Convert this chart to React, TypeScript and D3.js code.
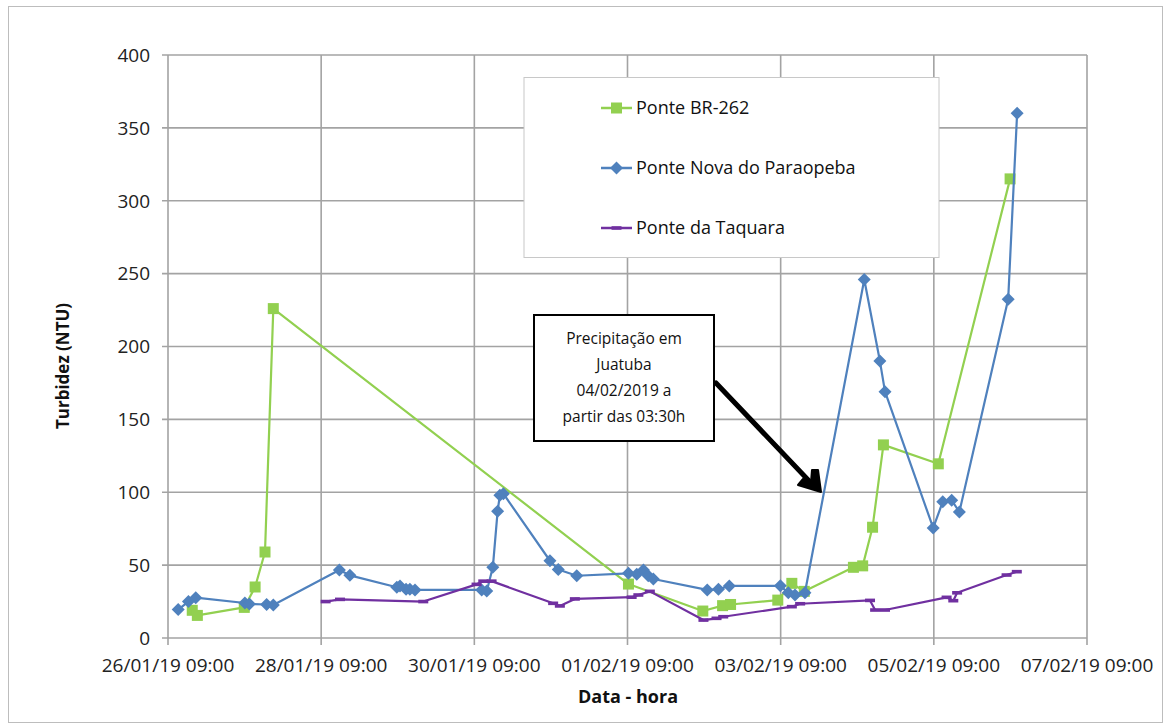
import React from 'react';
import * as d3 from 'd3';

// x tick labels, as printed on the chart
const xTickLabels = [
  '26/01/19 09:00', '28/01/19 09:00', '30/01/19 09:00', '01/02/19 09:00',
  '03/02/19 09:00', '05/02/19 09:00', '07/02/19 09:00',
];
const yTicks = [0, 50, 100, 150, 200, 250, 300, 350, 400];

// Ponte BR-262
const br262 = [
  ['2019-01-26 16:36', 19], ['2019-01-26 18:12', 15.5], ['2019-01-27 08:54', 21],
  ['2019-01-27 12:18', 35], ['2019-01-27 15:24', 59], ['2019-01-27 18:00', 226],
  ['2019-02-01 09:18', 37], ['2019-02-02 08:36', 18.5], ['2019-02-02 14:48', 22.2],
  ['2019-02-02 17:18', 23], ['2019-02-03 08:06', 26], ['2019-02-03 12:30', 37.5],
  ['2019-02-03 16:24', 32], ['2019-02-04 07:48', 48.5], ['2019-02-04 10:42', 49.5],
  ['2019-02-04 13:48', 76], ['2019-02-04 17:12', 132.5], ['2019-02-05 10:24', 119.5],
  ['2019-02-06 08:54', 315],
];

// Ponte Nova do Paraopeba
const novaParaopeba = [
  ['2019-01-26 12:12', 19.5], ['2019-01-26 15:24', 25], ['2019-01-26 17:42', 27.7],
  ['2019-01-27 09:06', 24], ['2019-01-27 10:30', 23.3], ['2019-01-27 15:54', 23],
  ['2019-01-27 18:00', 22.6], ['2019-01-28 14:42', 46.6], ['2019-01-28 18:00', 43],
  ['2019-01-29 08:42', 34.8], ['2019-01-29 09:42', 35.7], ['2019-01-29 11:36', 33.5],
  ['2019-01-29 12:48', 33.4], ['2019-01-29 14:24', 33], ['2019-01-30 11:18', 33],
  ['2019-01-30 12:54', 32.2], ['2019-01-30 14:48', 48.5], ['2019-01-30 16:18', 87],
  ['2019-01-30 17:00', 98], ['2019-01-30 18:06', 99], ['2019-01-31 08:42', 53],
  ['2019-01-31 11:18', 47], ['2019-01-31 17:06', 42.7], ['2019-02-01 09:18', 44.4],
  ['2019-02-01 11:54', 43.7], ['2019-02-01 14:00', 46.6], ['2019-02-01 15:30', 42.7],
  ['2019-02-01 17:06', 40.5], ['2019-02-02 10:00', 33], ['2019-02-02 13:30', 33.4],
  ['2019-02-02 16:54', 35.7], ['2019-02-03 08:54', 35.8], ['2019-02-03 11:24', 31],
  ['2019-02-03 13:30', 29.5], ['2019-02-03 16:36', 31], ['2019-02-04 11:12', 246],
  ['2019-02-04 16:06', 190], ['2019-02-04 17:42', 169], ['2019-02-05 08:48', 75.5],
  ['2019-02-05 11:48', 93.5], ['2019-02-05 14:36', 94.5], ['2019-02-05 17:00', 86.5],
  ['2019-02-06 08:18', 232.5], ['2019-02-06 11:06', 360],
];

// Ponte da Taquara
const taquara = [
  ['2019-01-28 10:24', 25], ['2019-01-28 14:54', 26.5], ['2019-01-29 17:00', 25],
  ['2019-01-30 09:42', 36.8], ['2019-01-30 11:48', 39], ['2019-01-30 14:24', 39],
  ['2019-01-31 09:42', 23.8], ['2019-01-31 11:48', 22], ['2019-01-31 16:30', 26.8],
  ['2019-02-01 10:18', 28], ['2019-02-01 12:24', 29.5], ['2019-02-01 16:00', 32],
  ['2019-02-02 08:48', 12.3], ['2019-02-02 12:54', 13.5], ['2019-02-02 15:00', 14.6],
  ['2019-02-03 12:30', 21.5], ['2019-02-03 15:06', 23.5], ['2019-02-04 13:00', 25.8],
  ['2019-02-04 14:36', 19.2], ['2019-02-04 17:42', 19.2], ['2019-02-05 13:00', 27.9],
  ['2019-02-05 15:06', 25.6], ['2019-02-05 16:18', 31], ['2019-02-06 07:48', 43.2],
  ['2019-02-06 11:00', 45.5],
];

const seriesNames = ['Ponte BR-262', 'Ponte Nova do Paraopeba', 'Ponte da Taquara'];
const seriesColors = ['#92D050', '#4F81BD', '#7030A0'];
const seriesMarkers = ['square', 'diamond', 'dash'];

const noteLines = ['Precipitação em', 'Juatuba', '04/02/2019 a', 'partir das 03:30h'];

const parseData = d3.timeParse('%Y-%m-%d %H:%M');
const parseTick = d3.timeParse('%d/%m/%y %H:%M');

const W = 1166, H = 725;
const left = 168, right = 1087, top = 55, bottom = 638;
const font = "'Open Sans', 'DejaVu Sans', sans-serif";
const grid = '#a3a3a3';

function Marker({ kind, x, y, color }) {
  if (kind === 'square') return <rect x={x - 5.5} y={y - 5.5} width={11} height={11} fill={color} />;
  if (kind === 'diamond') return <path d={`M${x},${y - 6.5}L${x + 6.5},${y}L${x},${y + 6.5}L${x - 6.5},${y}Z`} fill={color} />;
  return <rect x={x - 5} y={y - 1.8} width={10} height={3.6} fill={color} />;
}

export default function App() {
  const xTicks = xTickLabels.map(s => parseTick(s));
  const x = d3.scaleTime().domain([xTicks[0], xTicks[xTicks.length - 1]]).range([left, right]);
  const y = d3.scaleLinear().domain([0, 400]).range([bottom, top]);

  const allSeries = [br262, novaParaopeba, taquara].map(s => s.map(([t, v]) => ({ t: parseData(t), v })));
  const line = d3.line().x(d => x(d.t)).y(d => y(d.v));

  const legendY = [108, 168, 228];

  return (
    <div style={{ position: 'fixed', left: 0, top: 0 }}>
      <svg width={W} height={H} style={{ display: 'block', background: '#fff' }}>
        <rect x={8.5} y={6.5} width={1154} height={716} fill="#fff" stroke="#bdbdbd" strokeWidth={1} />

        {/* grid */}
        {yTicks.map(t => (
          <line key={'gy' + t} x1={left - 6} x2={right} y1={y(t)} y2={y(t)} stroke={grid} strokeWidth={1.6} />
        ))}
        {xTicks.map((t, i) => (
          <line key={'gx' + i} x1={x(t)} x2={x(t)} y1={top} y2={bottom + 7} stroke={grid} strokeWidth={1.6} />
        ))}

        {/* tick labels */}
        {yTicks.map(t => (
          <text key={'ty' + t} x={150} y={y(t)} dy="0.36em" textAnchor="end" fontFamily={font} fontSize={19} fill="#222">{t}</text>
        ))}
        {xTicks.map((t, i) => (
          <text key={'tx' + i} x={x(t)} y={672} textAnchor="middle" fontFamily={font} fontSize={19} fill="#222">{xTickLabels[i]}</text>
        ))}

        <text x={628} y={703} textAnchor="middle" fontFamily={font} fontSize={18} fontWeight="bold" fill="#111">Data - hora</text>
        <text transform="translate(69,366) rotate(-90)" textAnchor="middle" fontFamily={font} fontSize={17} fontWeight="bold" fill="#111">Turbidez (NTU)</text>

        {/* legend */}
        <rect x={524} y={77.5} width={415} height={180} fill="#fff" stroke="#c8c8c8" strokeWidth={1} />
        {seriesNames.map((n, i) => (
          <g key={'lg' + i}>
            <line x1={601} x2={632} y1={legendY[i]} y2={legendY[i]} stroke={seriesColors[i]} strokeWidth={2.5} />
            <Marker kind={seriesMarkers[i]} x={616.5} y={legendY[i]} color={seriesColors[i]} />
            <text x={636} y={legendY[i]} dy="0.36em" fontFamily={font} fontSize={18} fill="#111">{n}</text>
          </g>
        ))}

        {/* series */}
        {allSeries.map((s, i) => (
          <g key={'s' + i}>
            <path d={line(s)} fill="none" stroke={seriesColors[i]} strokeWidth={2.2} strokeLinejoin="round" />
            {s.map((d, j) => (
              <Marker key={j} kind={seriesMarkers[i]} x={x(d.t)} y={y(d.v)} color={seriesColors[i]} />
            ))}
          </g>
        ))}

        {/* annotation */}
        <rect x={534} y={315} width={180} height={126} fill="#fff" stroke="#000" strokeWidth={2} />
        {noteLines.map((l, i) => (
          <text key={'n' + i} x={624} y={338 + i * 26} dy="0.36em" textAnchor="middle" fontFamily={font} fontSize={15.5} fill="#111">{l}</text>
        ))}
        <line x1={716} y1={383} x2={812} y2={484} stroke="#000" strokeWidth={5} strokeLinecap="round" />
        <path d="M821,492 L798,485 L803,479 L811,482 L812,470 L818,470 Z" fill="#000" stroke="#000" strokeWidth={2} strokeLinejoin="round" />
      </svg>
    </div>
  );
}
